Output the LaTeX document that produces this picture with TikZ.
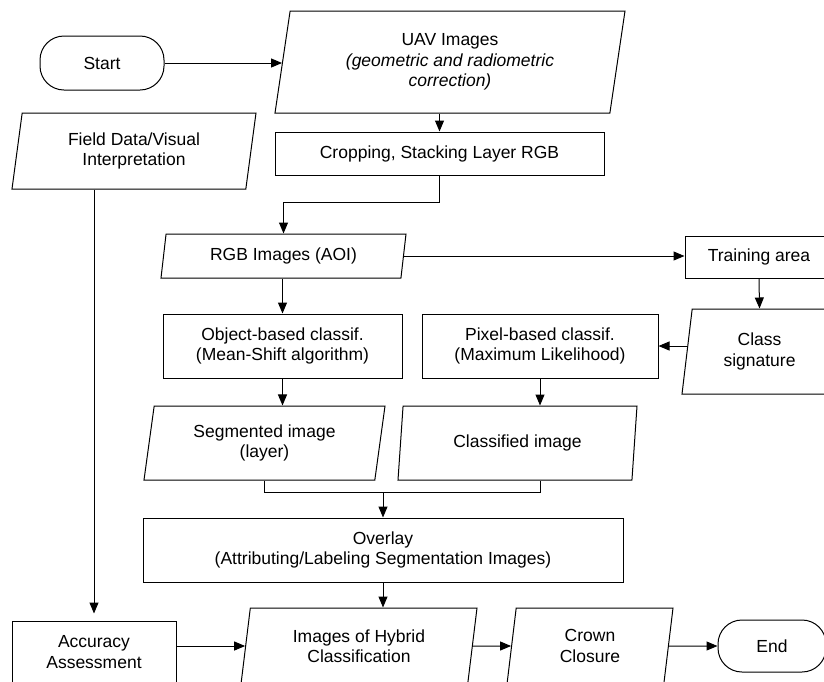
\documentclass[tikz,border=0pt]{standalone}
\usepackage{fontspec}
\setmainfont{Liberation Sans}
\usepackage{tikz}
\usetikzlibrary{shapes.geometric,arrows.meta}
\newcommand{\boxfont}{\fontsize{17.5}{20.5}\selectfont}

\begin{document}
\begin{tikzpicture}[x=1pt,y=-1pt,line width=1pt]
        %
        % `process' is used for the plain boxes.
        % `data' is used for the slanted boxes (images, data).
        % `terminal' is used for Start and End.
        \tikzstyle{process} = [draw,fill=white,font=\boxfont,align=center,inner sep=2pt]
        \tikzstyle{data} = [draw,fill=white,font=\boxfont,align=center,inner sep=2pt,
                trapezium,trapezium left angle=76,trapezium right angle=104,trapezium stretches body]
        \tikzstyle{terminal} = [draw,fill=white,font=\boxfont,rounded corners=24pt,inner sep=2pt]
        \tikzstyle{arr} = [-{Triangle[length=11pt,width=9pt]}]
        %
        \useasboundingbox (0,0) rectangle (824,681);
        \clip (0,0) rectangle (824,681);
        %
        % Row 1
        \node[terminal,minimum width=124,minimum height=54] (start) at (102,63) {Start};
        \node[data,minimum width=350,minimum height=102] (uav) at (450,62)
                {UAV Images\\\itshape (geometric and radiometric\\\itshape correction)};
        \draw[arr] (start.east) -- (start.east -| uav.west);
        %
        % Row 2
        \node[data,minimum width=244,minimum height=76] (field) at (134,151)
                {Field Data/Visual\\Interpretation};
        \node[process,minimum width=329,minimum height=43] (crop) at (439.5,153.5)
                {Cropping, Stacking Layer RGB};
        \draw[arr] (crop.north |- uav.south) -- (crop.north);
        %
        % Row 3
        \node[data,minimum width=245,minimum height=44] (rgb) at (283.5,256) {RGB Images (AOI)};
        \node[process,minimum width=148,minimum height=42] (train) at (759,257) {Training area};
        \draw[arr] (crop.south) -- ++(0,27) -| (rgb.north);
        \draw[arr] (rgb.east) -- (rgb.east -| train.west);
        %
        % Row 4
        \node[process,minimum width=239,minimum height=64] (obj) at (282.5,346)
                {Object-based classif.\\(Mean-Shift algorithm)};
        \node[process,minimum width=236,minimum height=64] (pix) at (540,346)
                {Pixel-based classif.\\(Maximum Likelihood)};
        \node[data,minimum width=155,minimum height=85] (sig) at (759.5,351.5) {Class\\signature};
        \draw[arr] (obj.north |- rgb.south) -- (obj.north);
        \draw[arr] (train.south) -- (sig.north);
        \draw[arr] (pix.east -| sig.west) -- (pix.east);
        %
        % Row 5
        \node[data,minimum width=241,minimum height=74] (seg) at (264.5,443)
                {Segmented image\\(layer)};
        \node[data,minimum width=239,minimum height=74] (cls) at (517.5,443) {Classified image};
        \draw[arr] (obj.south) -- (obj.south |- seg.north);
        \draw[arr] (pix.south) -- (pix.south |- cls.north);
        %
        % Row 6
        \node[process,minimum width=480,minimum height=64] (ovl) at (383,550)
                {Overlay\\(Attributing/Labeling Segmentation Images)};
        \coordinate (join) at (383,492);
        \draw (seg.south) |- (join) -| (pix.south |- cls.south);
        \draw[arr] (join) -- (ovl.north);
        %
        % Row 7
        \node[process,minimum width=164,minimum height=62] (acc) at (94,652)
                {Accuracy\\Assessment};
        \node[data,minimum width=236,minimum height=76] (hyb) at (359,646)
                {Images of Hybrid\\Classification};
        \node[data,minimum width=166,minimum height=76] (crown) at (590,646) {Crown\\Closure};
        \node[terminal,minimum width=108,minimum height=52] (end) at (772,646) {End};
        \draw[arr,shorten >=7pt] (acc.north |- field.south) -- (acc.north);
        \draw[arr] (ovl.south) -- (ovl.south |- hyb.north);
        \draw[arr] (acc.east |- hyb.west) -- (hyb.west);
        \draw[arr] (hyb.east) -- (crown.west);
        \draw[arr] (crown.east) -- (end.west);
        %
\end{tikzpicture}
\end{document}
